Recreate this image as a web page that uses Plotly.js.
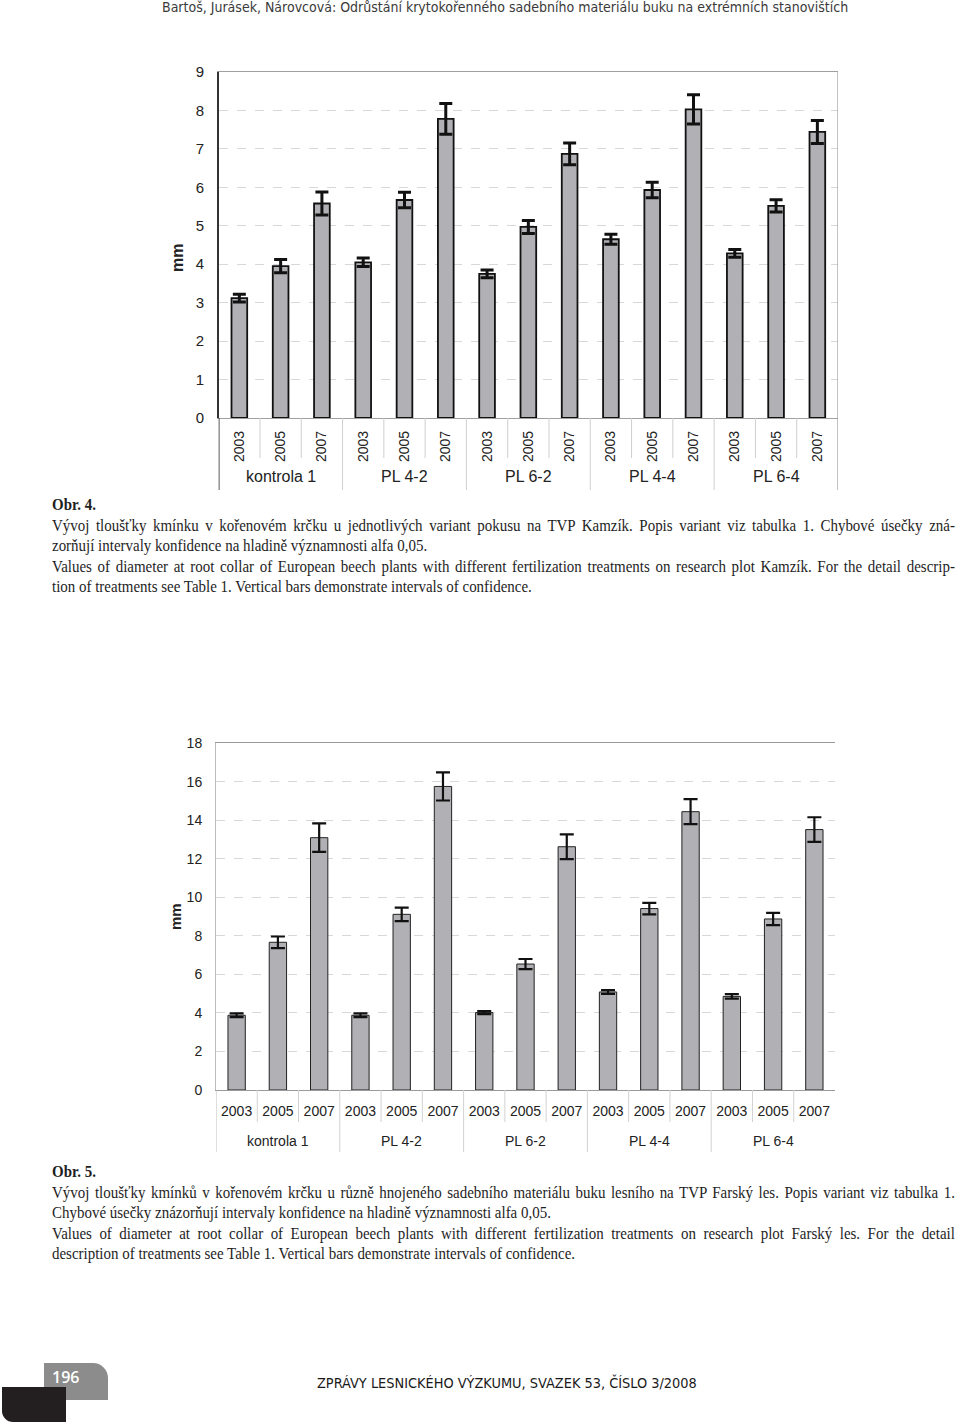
<!DOCTYPE html>
<html>
<head>
<meta charset="utf-8">
<script src="https://cdn.plot.ly/plotly-3.0.1.min.js"></script>
<style>
  html, body { margin:0; padding:0; background:#fff; }
  #page { position:relative; width:960px; height:1427px; overflow:hidden; background:#fff; }
  #plot { position:absolute; left:0; top:0; width:960px; height:1427px; }
  .txt { position:absolute; z-index:5; white-space:nowrap; }
  .header { left:162px; top:-1px; font-family:"DejaVu Sans Condensed","DejaVu Sans",sans-serif; font-size:14px; color:#3a3a3a; line-height:16px; }
  .cap { left:52px; width:1026px; transform:scaleX(0.88); transform-origin:0 0; font-family:"Liberation Serif","Times New Roman",serif; font-size:17px; color:#1e1e1e; line-height:20.5px; }
  .cap div { white-space:nowrap; }
  .cap .j { text-align:justify; text-align-last:justify; }
  .cap .b { font-weight:bold; }
  .footer { left:317px; top:1375px; font-family:"DejaVu Sans Condensed","DejaVu Sans",sans-serif; font-size:14.4px; color:#1a1a1a; }
  .gbox { position:absolute; left:44px; top:1363px; width:64px; height:37px; background:#8c8c8c; border-top-right-radius:15px; z-index:4; }
  .bbox { position:absolute; left:2px; top:1387px; width:64px; height:35px; background:#231f20; border-bottom-left-radius:11px; z-index:5; }
  .pnum { left:52px; top:1367px; font-family:"Open Sans","DejaVu Sans",sans-serif; font-weight:600; font-size:16px; color:#fff; z-index:6; line-height:20px; }
</style>
</head>
<body>
<div id="page">
  <div id="plot"></div>
  <div class="txt header">Bartoš, Jurásek, Nárovcová: Odrůstání krytokořenného sadebního materiálu buku na extrémních stanovištích</div>

  <div class="txt cap" style="top:495px;">
    <div class="b">Obr. 4.</div>
    <div class="j">Vývoj tloušťky kmínku v kořenovém krčku u jednotlivých variant pokusu na TVP Kamzík. Popis variant viz tabulka 1. Chybové úsečky zná-</div>
    <div>zorňují intervaly konfidence na hladině významnosti alfa 0,05.</div>
    <div class="j">Values of diameter at root collar of European beech plants with different fertilization treatments on research plot Kamzík. For the detail descrip-</div>
    <div>tion of treatments see Table 1. Vertical bars demonstrate intervals of confidence.</div>
  </div>

  <div class="txt cap" style="top:1162px;">
    <div class="b">Obr. 5.</div>
    <div class="j">Vývoj tloušťky kmínků v kořenovém krčku u různě hnojeného sadebního materiálu buku lesního na TVP Farský les. Popis variant viz tabulka 1.</div>
    <div>Chybové úsečky znázorňují intervaly konfidence na hladině významnosti alfa 0,05.</div>
    <div class="j">Values of diameter at root collar of European beech plants with different fertilization treatments on research plot Farský les. For the detail</div>
    <div>description of treatments see Table 1. Vertical bars demonstrate intervals of confidence.</div>
  </div>

  <div class="gbox"></div>
  <div class="bbox"></div>
  <div class="txt pnum">196</div>
  <div class="txt footer">ZPRÁVY LESNICKÉHO VÝZKUMU, SVAZEK 53, ČÍSLO 3/2008</div>
</div>

<script>
// ---- data ----
var groups = ['kontrola 1', 'PL 4-2', 'PL 6-2', 'PL 4-4', 'PL 6-4'];
var years = ['2003', '2005', '2007'];

// Obr. 4 – Kamzík
var kamzikMean = [3.12, 3.95, 5.58, 4.05, 5.67, 7.78, 3.75, 4.97, 6.87, 4.65, 5.93, 8.03, 4.28, 5.52, 7.44];
var kamzikCI   = [0.10, 0.17, 0.30, 0.11, 0.20, 0.40, 0.10, 0.17, 0.28, 0.13, 0.20, 0.38, 0.10, 0.16, 0.30];

// Obr. 5 – Farský les
var farskyMean = [3.88, 7.67, 13.10, 3.88, 9.12, 15.76, 4.02, 6.54, 12.63, 5.09, 9.42, 14.45, 4.86, 8.88, 13.52];
var farskyCI   = [0.10, 0.30, 0.74, 0.10, 0.35, 0.73, 0.08, 0.26, 0.64, 0.10, 0.30, 0.65, 0.12, 0.32, 0.64];

var yAxisLabel = 'mm';

// ---- build categories ----
var keys = [], tickYears = [];
groups.forEach(function (g) {
  years.forEach(function (y) { keys.push(g + ' ' + y); tickYears.push(y); });
});

// page pixel -> paper coordinates
var W = 960, H = 1427;
function X(px) { return px / W; }
function Y(py) { return 1 - py / H; }

var FONT = '"Liberation Sans", Arial, sans-serif';

var traces = [
  {
    type: 'bar', x: keys, y: kamzikMean, xaxis: 'x', yaxis: 'y',
    width: 0.38,
    marker: { color: '#b1b1b5', line: { color: '#111', width: 1.8 } },
    error_y: { type: 'data', array: kamzikCI, visible: true, color: '#111', thickness: 3, width: 6.5 },
    hoverinfo: 'skip'
  },
  {
    type: 'bar', x: keys, y: farskyMean, xaxis: 'x2', yaxis: 'y2',
    width: 0.42,
    marker: { color: '#b1b1b5', line: { color: '#222', width: 1 } },
    error_y: { type: 'data', array: farskyCI, visible: true, color: '#111', thickness: 2.2, width: 7 },
    hoverinfo: 'skip'
  }
];

var shapes = [];
var annotations = [];

function addSeparators(xref, yAxisPx, yearEndPx, groupEndPx, color) {
  for (var i = 0; i < keys.length - 1; i++) {
    var isGroup = (i + 1) % years.length === 0;
    shapes.push({
      type: 'line', xref: xref, yref: 'paper',
      x0: i + 0.5, x1: i + 0.5, y0: Y(yAxisPx), y1: Y(isGroup ? groupEndPx : yearEndPx),
      line: { color: color, width: 1 }
    });
  }
}

// chart 1 axis region
addSeparators('x', 418, 458, 490, '#cfcfcf');
shapes.push({ type: 'line', xref: 'x', yref: 'paper', x0: -0.5, x1: -0.5, y0: Y(418), y1: Y(490), line: { color: '#333', width: 1.6 } });
shapes.push({ type: 'line', xref: 'x', yref: 'paper', x0: 14.5, x1: 14.5, y0: Y(72), y1: Y(490), line: { color: '#a0a0a0', width: 1.3 } });

// chart 2 axis region
addSeparators('x2', 1090, 1122, 1152, '#d2d2d2');
shapes.push({ type: 'line', xref: 'x2', yref: 'paper', x0: -0.5, x1: -0.5, y0: Y(1090), y1: Y(1152), line: { color: '#bdbdbd', width: 1 } });

// group labels
groups.forEach(function (g) {
  annotations.push({ xref: 'x', yref: 'paper', x: g + ' ' + years[1], y: Y(477), text: g, showarrow: false,
    yanchor: 'middle', font: { family: FONT, size: 16, color: '#222' } });
  annotations.push({ xref: 'x2', yref: 'paper', x: g + ' ' + years[1], y: Y(1141), text: g, showarrow: false,
    yanchor: 'middle', font: { family: FONT, size: 14, color: '#222' } });
});

// y axis titles
annotations.push({ xref: 'paper', yref: 'paper', x: X(178), y: Y(258), text: '<b>' + yAxisLabel + '</b>', textangle: -90,
  showarrow: false, xanchor: 'center', yanchor: 'middle', font: { family: FONT, size: 16, color: '#222' } });
annotations.push({ xref: 'paper', yref: 'paper', x: X(175), y: Y(917), text: '<b>' + yAxisLabel + '</b>', textangle: -90,
  showarrow: false, xanchor: 'center', yanchor: 'middle', font: { family: FONT, size: 15, color: '#222' } });

var layout = {
  width: W, height: H,
  margin: { l: 0, r: 0, t: 0, b: 0 },
  paper_bgcolor: 'rgba(0,0,0,0)', plot_bgcolor: 'rgba(0,0,0,0)',
  showlegend: false,
  xaxis: {
    domain: [X(218.7), X(838)], anchor: 'y', type: 'category', range: [-0.5, 14.5],
    tickmode: 'array', tickvals: keys, ticktext: tickYears, tickangle: -90,
    tickfont: { family: FONT, size: 14, color: '#222' }, ticks: '', ticklabelstandoff: 6,
    showline: true, linecolor: '#a0a0a0', linewidth: 1.3, mirror: true, showgrid: false, zeroline: false, fixedrange: true
  },
  yaxis: {
    domain: [Y(418), Y(72)], anchor: 'x', range: [0, 9], dtick: 1, tick0: 0,
    tickfont: { family: FONT, size: 15, color: '#222' }, ticks: '', ticklabelstandoff: 10,
    showline: true, linecolor: '#333', linewidth: 1.6,
    showgrid: true, gridcolor: '#d8d8d8', griddash: 'dash', gridwidth: 1, zeroline: false, fixedrange: true
  },
  xaxis2: {
    domain: [X(216), X(835)], anchor: 'y2', type: 'category', range: [-0.5, 14.5],
    tickmode: 'array', tickvals: keys, ticktext: tickYears, tickangle: 0,
    tickfont: { family: FONT, size: 14, color: '#222' }, ticks: '', ticklabelstandoff: 8,
    showline: true, linecolor: '#9a9a9a', linewidth: 1.2, mirror: true, showgrid: false, zeroline: false, fixedrange: true
  },
  yaxis2: {
    domain: [Y(1090), Y(743.3)], anchor: 'x2', range: [0, 18], dtick: 2, tick0: 0,
    tickfont: { family: FONT, size: 14, color: '#222' }, ticks: '', ticklabelstandoff: 10,
    showline: true, linecolor: '#bdbdbd', linewidth: 1,
    showgrid: true, gridcolor: '#d8d8d8', griddash: 'dash', gridwidth: 1, zeroline: false, fixedrange: true
  },
  shapes: shapes,
  annotations: annotations
};

Plotly.newPlot('plot', traces, layout, { staticPlot: true, displayModeBar: false });
</script>
</body>
</html>
